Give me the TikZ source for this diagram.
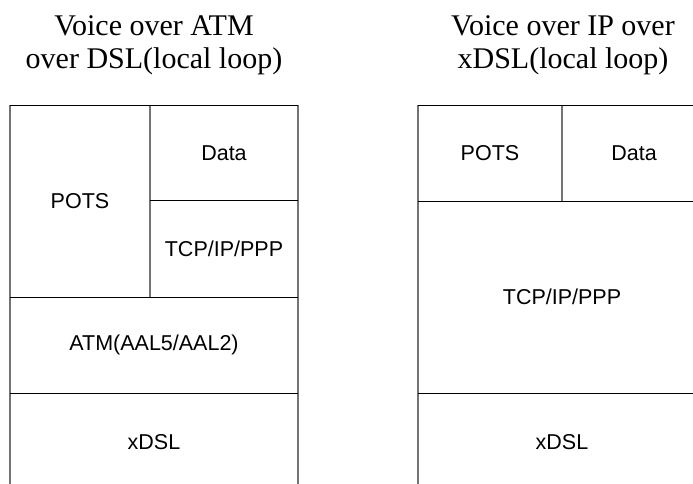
\documentclass[tikz,border=0pt]{standalone}
\usepackage{fontspec}
\setmainfont{Liberation Serif}
\setsansfont{Liberation Sans}
\usetikzlibrary{positioning}

\tikzset{
  ttl/.style={align=center, inner sep=0pt, font=\rmfamily\fontsize{30}{33}\selectfont},
  lyr/.style={inner sep=0pt, font=\sffamily\fontsize{21.5}{24}\selectfont},
  hline/.style={line width=0.9pt, black},
  vline/.style={line width=1.2pt, black!55},
}

\begin{document}
\begin{tikzpicture}[x=1pt, y=-1pt]
  %%%%% frame %%%%%
  \useasboundingbox (0,0) rectangle (693,483);
  \clip (0,0) rectangle (693,483);

  %%%%% titles %%%%%
  \node[ttl] (ttlatm) at (154,45) {Voice over ATM\\over DSL(local loop)};
  \node[ttl] (ttlip)  at (563,45) {Voice over IP over\\xDSL(local loop)};

  %%%%% ATM stack %%%%%
  \draw[vline] (10,105) -- (10,490);
  \draw[vline] (298,105) -- (298,490);
  \draw[vline] (150,105) -- (150,297);
  \draw[hline] (10,105) -- (298,105);
  \draw[hline] (150,200) -- (298,200);
  \draw[hline] (10,297) -- (298,297);
  \draw[hline] (10,393) -- (298,393);

  \node[lyr] (potsa) at (80,201)  {POTS};
  \node[lyr] (dataa) at (224,153) {Data};
  \node[lyr] (tcpa)  at (224,249) {TCP/IP/PPP};
  \node[lyr] (atm)   at (154,345) {ATM(AAL5/AAL2)};
  \node[lyr] (dsla)  at (154,442) {xDSL};

  %%%%% IP stack %%%%%
  \draw[vline] (418,105) -- (418,490);
  \draw[vline] (562,105) -- (562,201);
  \draw[vline] (706,105) -- (706,490);
  \draw[hline] (418,105) -- (706,105);
  \draw[hline] (418,201) -- (706,201);
  \draw[hline] (418,393) -- (706,393);

  \node[lyr] (potsb) at (490,153) {POTS};
  \node[lyr] (datab) at (634,153) {Data};
  \node[lyr] (tcpb)  at (562,297) {TCP/IP/PPP};
  \node[lyr] (dslb)  at (562,442) {xDSL};
\end{tikzpicture}
\end{document}
